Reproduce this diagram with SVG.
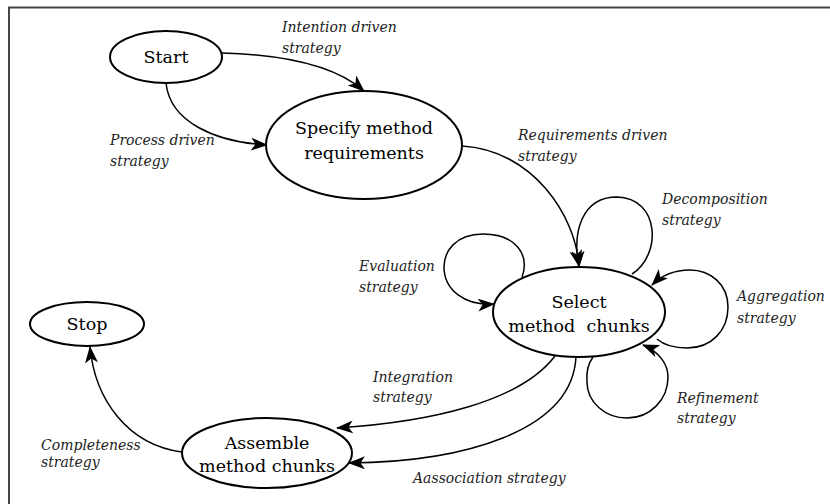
<svg xmlns="http://www.w3.org/2000/svg" width="830" height="504" viewBox="0 0 830 504">
<style>
text{font-family:"DejaVu Serif","Liberation Serif",serif}
.node ellipse{fill:#fff;stroke:#000;stroke-width:2}
.node text{font-size:17.5px;fill:#000;text-anchor:middle}
.edges path{fill:none;stroke:#000;stroke-width:1.5;marker-end:url(#arr)}
.lbl{font-size:14px;font-style:italic;fill:#222}
</style>
<defs>
<marker id="arr" markerWidth="17" markerHeight="13" refX="16" refY="6.5" orient="auto" markerUnits="userSpaceOnUse">
<path d="M0,0 L17,6.5 L0,13 L4.5,6.5 z" fill="#000"/>
</marker>
</defs>
<rect width="830" height="504" fill="#fff"/>
<path d="M9,504 V7.5 H830" fill="none" stroke="#444" stroke-width="2"/>

<g class="edges">
<path d="M222,53 C290,55 338,68 364,91"/>
<path d="M166,83 C170,122 215,142 267,145"/>
<path d="M462,146 C532,150 576,215 579,267"/>
<path d="M632,274 C662,255 660,198 617,197 C582,197 572,232 579,266"/>
<path d="M522,277 C530,255 516,234 483,234 C455,234 444,252 444,267 C444,290 465,306 494,304"/>
<path d="M657,339 C665,346 677,348 687,348 C712,348 728,330 728,307 C728,284 710,270 690,270 C675,270 662,275 652,285"/>
<path d="M593,357 C585,368 587,380 587,382 C587,402 605,418 627,418 C650,418 668,400 668,377 C668,365 660,352 643,345"/>
<path d="M555,356 C520,402 430,422 337,428"/>
<path d="M576,357 C572,432 462,462 349,463"/>
<path d="M182,452 C128,445 95,400 90,347"/>
</g>

<g id="start" class="node"><ellipse cx="166" cy="57" rx="56" ry="26"/><text x="166" y="63">Start</text></g>
<g id="specify" class="node"><ellipse cx="364" cy="145" rx="98" ry="54"/><text x="364" y="134">Specify method</text><text x="364" y="159">requirements</text></g>
<g id="select" class="node"><ellipse cx="579" cy="312" rx="86" ry="45"/><text x="579" y="308">Select</text><text x="579" y="332" xml:space="preserve">method  chunks</text></g>
<g id="stop" class="node"><ellipse cx="87" cy="324" rx="57" ry="22"/><text x="87" y="330">Stop</text></g>
<g id="assemble" class="node"><ellipse cx="267" cy="453" rx="85" ry="35"/><text x="267" y="449">Assemble</text><text x="267" y="472">method chunks</text></g>

<g id="labels">
<text class="lbl" x="282" y="32">Intention driven</text>
<text class="lbl" x="282" y="53">strategy</text>
<text class="lbl" x="110" y="145">Process driven</text>
<text class="lbl" x="110" y="166">strategy</text>
<text class="lbl" x="518" y="140">Requirements driven</text>
<text class="lbl" x="518" y="161">strategy</text>
<text class="lbl" x="662" y="204">Decomposition</text>
<text class="lbl" x="662" y="225">strategy</text>
<text class="lbl" x="359" y="271">Evaluation</text>
<text class="lbl" x="359" y="292">strategy</text>
<text class="lbl" x="737" y="301">Aggregation</text>
<text class="lbl" x="737" y="323">strategy</text>
<text class="lbl" x="677" y="403">Refinement</text>
<text class="lbl" x="677" y="423">strategy</text>
<text class="lbl" x="373" y="382">Integration</text>
<text class="lbl" x="373" y="402">strategy</text>
<text class="lbl" x="413" y="483">Aassociation strategy</text>
<text class="lbl" x="41" y="450">Completeness</text>
<text class="lbl" x="41" y="467">strategy</text>
</g>
</svg>
